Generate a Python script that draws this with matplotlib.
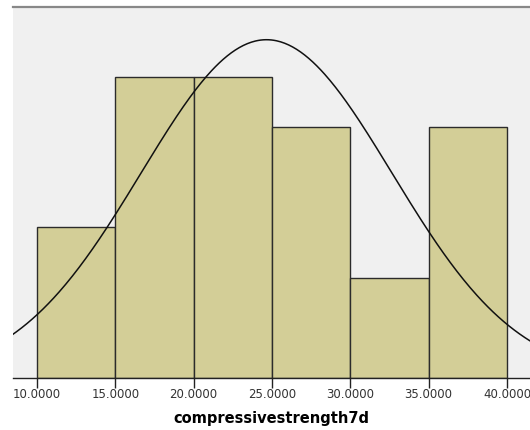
import numpy as np
import matplotlib
matplotlib.use("Agg")
import matplotlib.pyplot as plt

# Data
bin_edges = [10, 15, 20, 25, 30, 35, 40]
counts = [3, 6, 6, 5, 2, 5]
mean_val = 24.65
sd_val = 8.0
tick_vals = [10, 15, 20, 25, 30, 35, 40]
tick_labels = ["10.0000", "15.0000", "20.0000", "25.0000", "30.0000", "35.0000", "40.0000"]
xlabel = "compressivestrength7d"

fig = plt.figure(figsize=(5.3, 4.3), dpi=100)
fig.patch.set_facecolor("white")
ax = fig.add_axes([13/530, 1 - 378/430, 1 - 13/530, (378 - 7)/430])
ax.set_facecolor("#F0F0F0")

widths = np.diff(bin_edges)
ax.bar(bin_edges[:-1], counts, width=widths, align="edge",
       color="#D3CE97", edgecolor="#2b2b2b", linewidth=1.0, zorder=2)

n = sum(counts)
bw = widths[0]
xs = np.linspace(8.0, 42.0, 400)
ys = n * bw / (sd_val * np.sqrt(2 * np.pi)) * np.exp(-(xs - mean_val) ** 2 / (2 * sd_val ** 2))
ax.plot(xs, ys, color="#111111", linewidth=1.1, zorder=3)

ax.set_xlim(10 - 24/15.67, 40 + 23/15.67)
ax.set_ylim(0, (378 - 7) / 50.25)

ax.set_xticks(tick_vals)
ax.set_xticklabels(tick_labels, fontsize=8.5, color="#333333", family="DejaVu Sans")
ax.tick_params(axis="x", length=7, width=1, color="#222222", pad=0.5)
ax.set_yticks([])

for s in ["left", "right"]:
    ax.spines[s].set_visible(False)
ax.spines["top"].set_color("#888888")
ax.spines["top"].set_linewidth(1.6)
ax.spines["bottom"].set_color("#222222")
ax.spines["bottom"].set_linewidth(1.0)

ax.set_xlabel(xlabel, fontsize=10.5, fontweight="bold", family="DejaVu Sans", labelpad=7)

fig.savefig("out.png", dpi=100, facecolor="white")
